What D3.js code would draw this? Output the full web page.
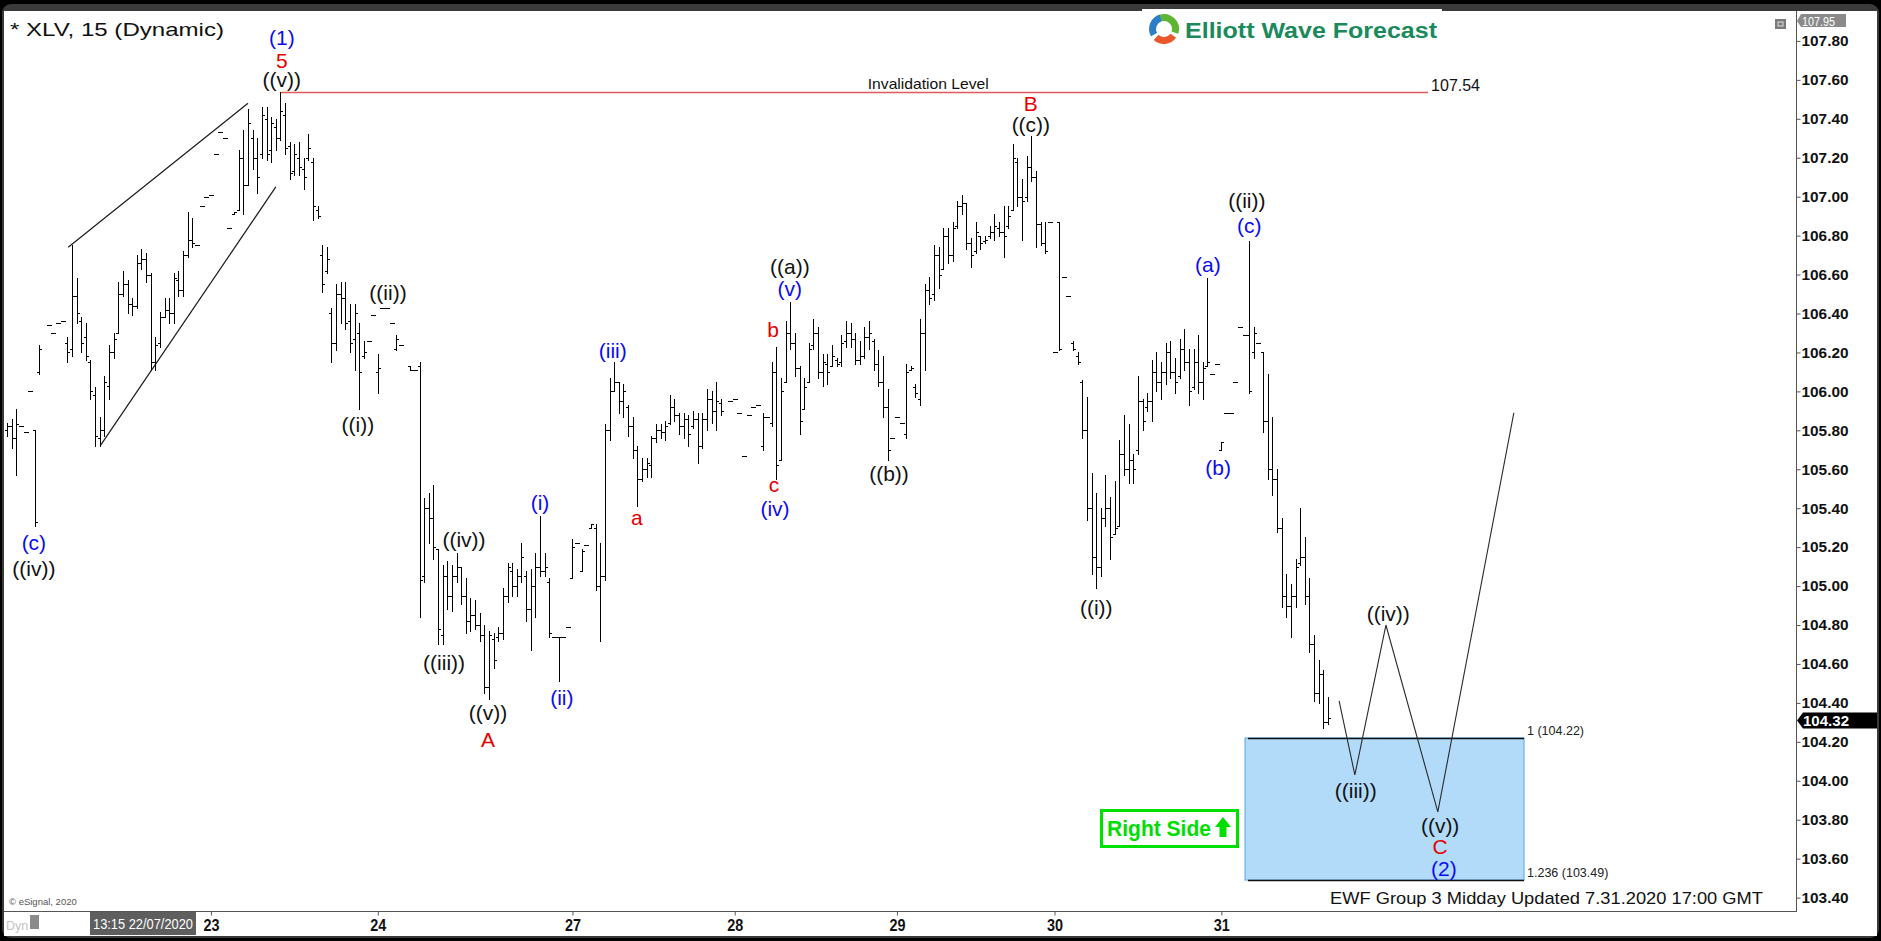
<!DOCTYPE html>
<html><head><meta charset="utf-8">
<script src="https://cdn.jsdelivr.net/npm/d3@7"></script>
<style>html,body{margin:0;padding:0;background:#000;overflow:hidden}text{font-family:"Liberation Sans",Arial,sans-serif}</style>
</head><body><svg id="c" width="1881" height="941"></svg>
<script>
// ---------------- DATA ----------------
const barSlot = [0,1,2,3,4,5,6,7,
 9,10,11,12,13,14,15,16,17,18, 19,20,21,22,23,24,25,26,27,28, 29,30,31,32,33,34,35,36,37,38,
 39,40,41,42,43,44,45,46,47,48, 49,50,51,52,53,54,55,56,57,58, 59,60,61,62,63,64,65,66,67,68,
 69,70,71,72,73,74,75,76,77,78, 79,80,81,82,83,84,85,87,88,89, 90,91,92,93,94,95,96,97,98,99,
 100,101,102,103,104,105,106,107,108,109, 110,111,112,113,114,115,116,117,118,119,
 120,121,122,123,124,125,126,127,128,129, 130,131,132,133,134,135,136,137,138,139,
 140,141,142,143,144,145,146,147,148,149, 150,151,152,153,154,156,157,158,159,160,
 161,162,163,164,165,166,167,168,169,170, 171,172,173,174,175,176,177,178,179,180,
 181,182,183,184,185,186,187,188,189,190, 191,192,193,194,195,196,197,198,199,200,
 201,202,203,204,205,206,207,208,209,210, 211,212,213,214,215,216,217,218,219,220,
 221,222,223,224,225,226,227,228,229,230, 231,232,233,234,235,236,237,238,239,240,
 241,242,243,244,245,246,247,248,249,250, 251,252,253,254,255,256,257,258,259,260,
 261,262,263,264,265,266,267,268,269,270, 271,272,273,274,275,276,277,278,279,280,
 281,282,283,284,285];
const barOpen = [105.80,105.82,105.76,105.82,105.79,106.00,105.80,106.10,
 106.34,106.30,106.35,106.36,106.25,106.22,106.49,106.36,106.28,106.15,
 105.98,105.76,105.80,106.03,106.20,106.30,106.50,106.55,106.45,106.44,
 106.66,106.68,106.60,106.15,106.25,106.38,106.42,106.40,106.57,106.52,
 106.70,106.78,106.75,106.95,107.00,107.01,107.22,107.33,107.30,106.84,
 106.91,106.93,107.20,107.06,107.30,107.20,107.22,107.40,107.24,107.36,
 107.30,107.42,107.26,107.13,107.20,107.14,107.20,107.18,106.93,106.70,
 106.62,106.40,106.25,106.50,106.48,106.36,106.27,106.30,106.18,106.26,
 106.39,106.10,106.43,106.43,106.35,106.22,106.24,106.13,106.11,106.13,
 105.05,105.40,105.35,105.19,104.75,105.05,104.95,105.05,105.10,104.95,
 104.82,104.85,104.80,104.75,104.48,104.73,104.74,104.76,104.95,105.08,
 105.00,105.05,105.05,104.88,105.00,105.10,105.08,105.02,104.74,104.74,
 104.74,104.79,105.04,105.22,105.08,105.21,105.30,105.30,105.00,105.05,
 105.80,106.00,106.05,105.95,105.92,105.82,105.70,105.55,105.60,105.62,
 105.76,105.80,105.79,105.84,105.92,105.88,105.82,105.86,105.82,105.86,
 105.72,105.86,105.96,105.90,105.94,105.95,105.96,105.89,105.67,105.88,
 105.92,105.93,105.72,105.87,105.84,106.10,105.65,106.05,106.30,106.25,
 106.12,105.91,106.05,106.24,106.30,106.10,106.14,106.13,106.16,106.15,
 106.26,106.30,106.27,106.16,106.18,106.28,106.26,106.14,106.05,105.92,
 105.76,105.87,105.84,105.78,106.11,106.02,105.96,106.30,106.52,106.50,
 106.70,106.63,106.80,106.70,106.85,106.95,106.97,106.76,106.72,106.80,
 106.77,106.80,106.82,106.84,106.82,106.85,106.93,107.18,107.00,107.00,
 107.15,107.10,106.86,106.76,106.87,106.20,106.87,106.59,106.49,106.25,
 106.18,106.05,105.80,105.40,105.15,105.10,105.35,105.40,105.27,105.31,
 105.68,105.60,105.65,105.70,105.95,105.92,105.95,106.10,106.05,106.10,
 106.20,106.10,106.08,106.22,106.15,106.02,106.15,106.05,106.13,106.09,
 106.14,105.70,105.89,105.89,106.05,106.33,106.29,106.29,106.20,106.25,
 106.20,105.85,105.60,105.55,105.30,104.95,104.90,104.95,105.12,105.15,
 104.95,104.70,104.45,104.55,104.30];
const barHigh = [105.84,105.86,105.91,105.82,105.79,106.00,105.80,106.24,
 106.34,106.30,106.35,106.36,106.28,106.75,106.58,106.38,106.35,106.16,
 106.02,105.87,106.08,106.24,106.30,106.56,106.62,106.57,106.48,106.70,
 106.73,106.71,106.61,106.28,106.41,106.48,106.48,106.61,106.62,106.72,
 106.92,106.89,106.75,106.95,107.00,107.01,107.22,107.33,107.30,106.84,
 106.92,107.24,107.34,107.45,107.34,107.30,107.46,107.46,107.41,107.40,
 107.54,107.48,107.28,107.27,107.28,107.20,107.32,107.20,106.95,106.75,
 106.74,106.43,106.55,106.56,106.56,106.45,106.45,106.35,106.26,106.26,
 106.39,106.19,106.43,106.43,106.35,106.29,106.24,106.13,106.11,106.15,
 105.45,105.48,105.52,105.19,105.11,105.13,105.11,105.17,105.10,105.04,
 104.94,104.93,104.86,104.80,104.77,104.76,104.79,104.99,105.12,105.12,
 105.09,105.22,105.08,105.09,105.17,105.36,105.17,105.04,104.74,104.74,
 104.74,104.79,105.24,105.22,105.19,105.21,105.32,105.32,105.22,105.83,
 106.07,106.15,106.05,106.04,105.93,105.87,105.72,105.66,105.66,105.77,
 105.83,105.83,105.85,105.98,105.96,105.89,105.89,105.88,105.90,105.89,
 105.89,106.01,106.00,106.05,105.96,105.95,105.96,105.89,105.67,105.88,
 105.92,105.93,105.89,105.87,106.15,106.23,106.07,106.36,106.46,106.30,
 106.13,106.07,106.25,106.37,106.33,106.19,106.19,106.24,106.17,106.29,
 106.36,106.35,106.30,106.26,106.33,106.36,106.27,106.21,106.18,106.01,
 105.76,105.87,105.84,106.14,106.13,106.04,106.37,106.55,106.59,106.75,
 106.74,106.84,106.84,106.87,106.98,107.01,106.97,106.79,106.87,106.80,
 106.80,106.85,106.91,106.87,106.95,106.95,107.27,107.20,107.09,107.21,
 107.31,107.13,106.87,106.87,106.87,106.20,106.87,106.59,106.49,106.26,
 106.20,106.06,105.97,105.58,105.48,105.40,105.57,105.46,105.54,105.75,
 105.88,105.83,105.68,106.08,105.96,105.99,106.16,106.20,106.15,106.25,
 106.26,106.17,106.27,106.32,106.22,106.22,106.29,106.15,106.58,106.09,
 106.14,105.74,105.89,105.89,106.05,106.33,106.29,106.77,106.33,106.25,
 106.20,106.09,105.87,105.60,105.35,105.06,105.01,105.14,105.40,105.25,
 105.04,104.75,104.62,104.57,104.43];
const barLow = [105.77,105.71,105.57,105.82,105.79,106.00,105.31,106.09,
 106.34,106.30,106.35,106.36,106.15,106.18,106.35,106.20,106.16,105.96,
 105.72,105.72,105.77,105.96,106.17,106.30,106.49,106.40,106.39,106.43,
 106.63,106.56,106.11,106.11,106.23,106.38,106.35,106.35,106.49,106.49,
 106.69,106.74,106.75,106.95,107.00,107.01,107.22,107.33,107.30,106.84,
 106.91,106.93,106.91,107.06,107.14,107.02,107.20,107.19,107.18,107.24,
 107.29,107.22,107.09,107.11,107.11,107.04,107.19,106.88,106.89,106.51,
 106.61,106.15,106.21,106.35,106.32,106.20,106.11,105.91,106.17,106.26,
 106.39,105.99,106.43,106.43,106.35,106.21,106.24,106.11,106.11,104.84,
 105.02,105.22,105.14,104.70,104.70,104.88,104.87,105.02,104.91,104.76,
 104.77,104.78,104.72,104.45,104.42,104.58,104.72,104.73,104.92,104.95,
 104.95,105.02,104.82,104.67,104.84,105.05,105.05,104.74,104.74,104.51,
 104.74,104.79,105.04,105.22,105.08,105.21,105.30,104.98,104.72,105.03,
 105.75,106.00,105.89,105.87,105.77,105.66,105.41,105.54,105.56,105.56,
 105.74,105.76,105.75,105.83,105.85,105.78,105.76,105.72,105.81,105.63,
 105.71,105.80,105.84,105.80,105.88,105.95,105.96,105.89,105.67,105.88,
 105.92,105.93,105.70,105.87,105.82,105.55,105.65,106.05,106.22,106.08,
 105.78,105.91,106.05,106.22,106.07,106.03,106.04,106.13,106.13,106.13,
 106.23,106.23,106.14,106.14,106.17,106.22,106.11,106.03,105.87,105.65,
 105.76,105.87,105.84,105.76,106.11,105.97,105.93,106.11,106.45,106.47,
 106.53,106.63,106.66,106.67,106.84,106.91,106.73,106.64,106.71,106.73,
 106.76,106.79,106.78,106.80,106.69,106.84,106.93,106.95,106.78,106.98,
 107.08,106.74,106.75,106.71,106.87,106.20,106.21,106.59,106.49,106.21,
 106.14,105.76,105.34,105.06,104.99,105.05,105.31,105.14,105.27,105.31,
 105.57,105.53,105.53,105.68,105.80,105.90,105.85,106.00,105.96,106.04,
 106.07,105.99,106.07,106.11,105.93,106.01,105.99,105.96,106.13,106.09,
 106.14,105.70,105.89,105.89,106.05,106.33,106.29,105.99,106.17,106.25,
 105.79,105.55,105.47,105.28,104.89,104.84,104.74,104.89,105.11,104.91,
 104.66,104.41,104.40,104.27,104.29];
const barClose = [105.82,105.76,105.83,105.82,105.79,106.00,105.33,106.22,
 106.34,106.30,106.35,106.36,106.20,106.49,106.40,106.25,106.18,106.00,
 105.77,105.80,106.05,106.20,106.27,106.50,106.55,106.45,106.44,106.66,
 106.68,106.60,106.15,106.24,106.38,106.42,106.40,106.58,106.52,106.70,
 106.78,106.76,106.75,106.95,107.00,107.01,107.22,107.33,107.30,106.84,
 106.92,107.20,107.06,107.38,107.20,107.10,107.42,107.22,107.38,107.30,
 107.44,107.25,107.12,107.22,107.15,107.10,107.25,106.95,106.90,106.55,
 106.68,106.25,106.50,106.48,106.35,106.25,106.40,106.10,106.20,106.26,
 106.39,106.12,106.43,106.43,106.35,106.27,106.24,106.11,106.11,105.03,
 105.40,105.35,105.20,104.78,105.05,104.95,105.05,105.10,104.95,104.82,
 104.85,104.80,104.75,104.48,104.75,104.62,104.76,104.95,105.10,105.00,
 105.05,105.15,104.88,105.00,105.10,105.08,105.10,104.76,104.74,104.74,
 104.74,104.79,105.20,105.22,105.18,105.21,105.32,105.00,105.05,105.80,
 106.00,106.05,105.95,106.00,105.82,105.70,105.55,105.60,105.63,105.76,
 105.80,105.79,105.82,105.92,105.88,105.82,105.86,105.78,105.86,105.72,
 105.86,105.96,105.90,105.95,105.90,105.95,105.96,105.89,105.67,105.88,
 105.92,105.93,105.87,105.87,106.10,105.62,106.00,106.30,106.25,106.12,
 105.85,106.02,106.22,106.30,106.10,106.15,106.10,106.18,106.14,106.25,
 106.30,106.27,106.16,106.18,106.28,106.30,106.14,106.05,105.92,105.70,
 105.76,105.87,105.84,106.10,106.12,105.99,106.30,106.52,106.48,106.70,
 106.60,106.80,106.70,106.84,106.95,106.97,106.76,106.70,106.82,106.76,
 106.78,106.82,106.85,106.82,106.80,106.90,107.20,107.00,106.98,107.15,
 107.10,106.86,106.76,106.72,106.87,106.20,106.22,106.59,106.49,106.22,
 106.15,105.80,105.40,105.15,105.10,105.35,105.40,105.25,105.30,105.68,
 105.60,105.65,105.60,105.95,105.85,105.95,106.10,106.05,106.10,106.20,
 106.10,106.05,106.22,106.15,106.00,106.15,106.05,106.12,106.15,106.09,
 106.14,105.74,105.89,105.89,106.05,106.33,106.29,106.00,106.30,106.25,
 105.85,105.60,105.55,105.30,104.95,104.90,104.95,105.10,105.15,104.95,
 104.70,104.45,104.55,104.30,104.32];

const priceTicks = [103.40,103.60,103.80,104.00,104.20,104.40,104.60,104.80,105.00,105.20,105.40,105.60,105.80,106.00,106.20,106.40,106.60,106.80,107.00,107.20,107.40,107.60,107.80];
const dayLabels = ['23','24','27','28','29','30','31'];
const daySlots = [44,80,122,157,192,226,262];

// wave labels: text, slot, price, colour key
const waveText  = ['(1)','5','((v))','(c)','((iv))','((ii))','((i))','((iv))','((iii))','((v))','A','(i)','(ii)','(iii)','a','((a))','(v)','b','c','(iv)','((b))','B','((c))','((i))','(a)','((ii))','(c)','(b)','((iv))','((iii))','((v))','C','(2)'];
const waveSlot  = [59.3,59.3,59.3,5.8,5.8,82.2,75.7,98.6,94.3,103.8,103.8,115,119.7,130.7,135.9,168.9,168.9,165.3,165.5,165.7,190.3,220.9,220.9,235,259.1,267.5,268,261.3,298,291,309.2,309.2,310];
const wavePrice = [107.815,107.70,107.60,105.225,105.09,106.51,105.83,105.24,104.61,104.35,104.21,105.43,104.43,106.21,105.35,106.64,106.53,106.32,105.52,105.40,105.58,107.48,107.37,104.89,106.65,106.98,106.85,105.61,104.86,103.95,103.77,103.66,103.55];
const waveColor = ['b','r','k','b','k','k','k','k','k','k','r','b','b','b','r','k','b','r','r','b','k','r','k','k','b','k','b','b','k','k','k','r','b'];

const wedgeUpper = [[13.2,106.74],[52.0,107.48]];
const wedgeLower = [[20.1,105.72],[58.0,107.05]];
const projectionPath = [[287.4,104.41],[290.8,104.03],[297.5,104.80],[308.7,103.84],[325.1,105.89]];
const invalidationPrice = 107.54;
const invalidationSlots = [59, 306.6];
const fibSlots = [267.1, 327.3];
const fibPrices = [104.22, 103.49];
const fibNames = ['1 (104.22)','1.236 (103.49)'];
const lastPrice = 104.32;
const topPrice = 107.95;

// ---------------- DRAW ----------------
const svg = d3.select('#c');
const W = 1881, H = 941;
const plotL = 4, plotR = 1796, plotT = 11, plotB = 911;

const x = d3.scaleLinear().domain([0, 385]).range([7, 7 + 385 * 4.635]);
const y = d3.scaleLinear().domain([103.4, 107.8]).range([897.6, 897.6 - 4.4 * 194.7]);

const colors = {b:'#0b0bf0', r:'#e60000', k:'#111111'};

// frame
svg.append('rect').attr('width', W).attr('height', H).attr('fill', '#000');
svg.append('rect').attr('x', 2).attr('y', 4).attr('width', 1877).attr('height', 934).attr('rx', 9).attr('fill', '#3a3a3a');
svg.append('rect').attr('x', 4).attr('y', 11).attr('width', 1873).attr('height', 925).attr('fill', '#fff');

const plot = svg.append('g');
plot.append('clipPath').attr('id', 'pc').append('rect')
  .attr('x', plotL).attr('y', plotT).attr('width', plotR - plotL).attr('height', plotB - plotT);

// fib zone
const fz = plot.append('g');
fz.append('rect')
  .attr('x', x(fibSlots[0])).attr('y', y(fibPrices[0]))
  .attr('width', x(fibSlots[1]) - x(fibSlots[0])).attr('height', y(fibPrices[1]) - y(fibPrices[0]))
  .attr('fill', '#b2dbfa').attr('stroke', '#5aa6e6').attr('stroke-width', 1);
fibPrices.forEach((p, i) => {
  fz.append('line').attr('x1', x(fibSlots[0]) + 3).attr('x2', x(fibSlots[1]))
    .attr('y1', Math.round(y(p)) + 0.5).attr('y2', Math.round(y(p)) + 0.5)
    .attr('stroke', '#111').attr('stroke-width', 1.6);
  fz.append('text').attr('x', x(fibSlots[1]) + 3).attr('y', y(p) - 3)
    .attr('font-size', 12.5).attr('fill', '#222').text(fibNames[i]);
});

// invalidation line
plot.append('line')
  .attr('x1', x(invalidationSlots[0])).attr('x2', x(invalidationSlots[1]))
  .attr('y1', Math.round(y(invalidationPrice)) + 0.5).attr('y2', Math.round(y(invalidationPrice)) + 0.5)
  .attr('stroke', '#e25a5a').attr('stroke-width', 1.3);
plot.append('text').attr('x', (x(invalidationSlots[0]) + x(invalidationSlots[1])) / 2 + 74).attr('y', y(invalidationPrice) - 3)
  .attr('text-anchor', 'middle').attr('font-size', 14.5).attr('fill', '#111')
  .attr('textLength', 121).attr('lengthAdjust', 'spacingAndGlyphs').text('Invalidation Level');
plot.append('text').attr('x', x(invalidationSlots[1]) + 3).attr('y', y(invalidationPrice) - 1)
  .attr('font-size', 16).attr('fill', '#111').text(invalidationPrice.toFixed(2));

// wedge lines
const line = d3.line().x(d => x(d[0])).y(d => y(d[1]));
[wedgeUpper, wedgeLower].forEach(w => plot.append('path').attr('d', line(w))
  .attr('fill', 'none').attr('stroke', '#1a1a1a').attr('stroke-width', 1.2));

// bars
const bars = plot.append('g').attr('clip-path', 'url(#pc)').attr('shape-rendering', 'crispEdges');
barSlot.forEach((s, i) => {
  const cx = Math.round(x(s)) + 0.5;
  const yh = Math.round(y(barHigh[i])), yl = Math.round(y(barLow[i]));
  const g = bars.append('g').attr('stroke', '#000').attr('stroke-width', 1);
  g.append('line').attr('x1', cx).attr('x2', cx).attr('y1', yh).attr('y2', Math.max(yl, yh) + 1);
  const yo = Math.round(y(barOpen[i])) + 0.5, yc = Math.round(y(barClose[i])) + 0.5;
  g.append('line').attr('x1', cx - 2.5).attr('x2', cx).attr('y1', yo).attr('y2', yo);
  g.append('line').attr('x1', cx).attr('x2', cx + 2.5).attr('y1', yc).attr('y2', yc);
});

// projection path
plot.append('path').attr('d', line(projectionPath)).attr('fill', 'none')
  .attr('stroke', '#2a2a2a').attr('stroke-width', 1.1);

// wave labels
waveText.forEach((t, i) => {
  plot.append('text').attr('x', x(waveSlot[i])).attr('y', y(wavePrice[i]))
    .attr('text-anchor', 'middle').attr('dominant-baseline', 'central')
    .attr('font-size', 21).attr('fill', colors[waveColor[i]]).text(t);
});

// Right Side box
const rs = svg.append('g');
rs.append('rect').attr('x', 1101.5).attr('y', 810.5).attr('width', 136).attr('height', 36)
  .attr('fill', '#fff').attr('stroke', '#00e000').attr('stroke-width', 3);
rs.append('text').attr('x', 1107).attr('y', 836).attr('font-size', 22).attr('font-weight', 'bold')
  .attr('fill', '#00dd00').attr('textLength', 104).attr('lengthAdjust', 'spacingAndGlyphs').text('Right Side');
rs.append('path').attr('d', 'M1223,817 L1231,827 L1226.5,827 L1226.5,837 L1219.5,837 L1219.5,827 L1215,827 Z')
  .attr('fill', '#00dd00');

// plot frame lines
svg.append('line').attr('x1', plotR + 0.5).attr('x2', plotR + 0.5).attr('y1', plotT).attr('y2', plotB + 1)
  .attr('stroke', '#555').attr('stroke-width', 1);
svg.append('line').attr('x1', plotL).attr('x2', plotR + 1).attr('y1', plotB + 0.5).attr('y2', plotB + 0.5)
  .attr('stroke', '#555').attr('stroke-width', 1);

// right axis
const yAxis = d3.axisRight(y).tickValues(priceTicks).tickFormat(d3.format('.2f')).tickSize(4).tickPadding(1);
const ya = svg.append('g').attr('transform', `translate(${plotR + 0.5},0)`).call(yAxis);
ya.select('.domain').remove();
ya.selectAll('line').attr('stroke', '#555');
ya.selectAll('text').attr('font-size', 15).attr('font-weight', 'bold').attr('fill', '#111')
  .attr('font-family', '"Liberation Sans",Arial,sans-serif')
  .attr('textLength', 47).attr('lengthAdjust', 'spacingAndGlyphs');

// bottom axis
const xAxis = d3.axisBottom(x).tickValues(daySlots).tickFormat((d, i) => dayLabels[i]).tickSize(4).tickPadding(3);
const xa = svg.append('g').attr('transform', `translate(0,${plotB + 0.5})`).call(xAxis);
xa.select('.domain').remove();
xa.selectAll('line').attr('stroke', '#555');
xa.selectAll('text').attr('font-size', 17).attr('font-weight', 'bold').attr('fill', '#111')
  .attr('font-family', '"Liberation Sans",Arial,sans-serif')
  .attr('textLength', 16).attr('lengthAdjust', 'spacingAndGlyphs');

// top price tag (107.95)
const tp = Math.round(y(topPrice)) + 9;
svg.append('path').attr('d', `M${plotR + 1},${tp} L${plotR + 5},${tp - 7} L1846,${tp - 7} L1846,${tp + 6} L${plotR + 5},${tp + 6} Z`)
  .attr('fill', '#8a8a8a');
svg.append('text').attr('x', plotR + 6).attr('y', tp + 4.5).attr('font-size', 12.5).attr('fill', '#fff')
  .attr('textLength', 33).attr('lengthAdjust', 'spacingAndGlyphs').text(topPrice.toFixed(2));

// last price tag
const lp = y(lastPrice) + 2;
svg.append('path').attr('d', `M${plotR + 1},${lp} L${plotR + 7},${lp - 8} L1877,${lp - 8} L1877,${lp + 8} L${plotR + 7},${lp + 8} Z`)
  .attr('fill', '#000');
svg.append('text').attr('x', plotR + 7).attr('y', lp + 5.5).attr('font-size', 15).attr('font-weight', 'bold')
  .attr('fill', '#fff').attr('textLength', 46).attr('lengthAdjust', 'spacingAndGlyphs').text(lastPrice.toFixed(2));

// title
svg.append('text').attr('x', 10).attr('y', 36).attr('font-size', 19).attr('fill', '#111')
  .attr('textLength', 214).attr('lengthAdjust', 'spacingAndGlyphs').text('* XLV, 15 (Dynamic)');

// logo
const lg = svg.append('g');
lg.append('rect').attr('x', 1142).attr('y', 9).attr('width', 300).attr('height', 40).attr('fill', '#fff');
const arc = d3.arc().innerRadius(8).outerRadius(15);
[[-0.3, 1.9, '#5db531'], [2.2, 3.9, '#e9572a'], [4.2, 6.0, '#2c7ec8']].forEach(a => {
  lg.append('path').attr('transform', 'translate(1164,29)')
    .attr('d', arc({startAngle: a[0], endAngle: a[1]})).attr('fill', a[2]);
});
lg.append('text').attr('x', 1185).attr('y', 38).attr('font-size', 22).attr('font-weight', 'bold')
  .attr('fill', '#1a8a5c').attr('textLength', 252).attr('lengthAdjust', 'spacingAndGlyphs').text('Elliott Wave Forecast');

// small icon top right
svg.append('rect').attr('x', 1775).attr('y', 19).attr('width', 11).attr('height', 10).attr('fill', '#7a7a7a');
svg.append('rect').attr('x', 1778).attr('y', 22).attr('width', 5).attr('height', 4).attr('fill', 'none').attr('stroke', '#ddd').attr('stroke-width', 1);

// footer texts
svg.append('text').attr('x', 9).attr('y', 905).attr('font-size', 9.5).attr('fill', '#555').text('© eSignal, 2020');
svg.append('text').attr('x', 1330).attr('y', 904).attr('font-size', 17).attr('fill', '#111')
  .attr('textLength', 433).attr('lengthAdjust', 'spacingAndGlyphs').text('EWF Group 3 Midday Updated 7.31.2020 17:00 GMT');
svg.append('text').attr('x', 6).attr('y', 930).attr('font-size', 12.5).attr('fill', '#c4c4c4').text('Dyn');
svg.append('rect').attr('x', 30).attr('y', 915).attr('width', 9).attr('height', 14).attr('fill', '#8a8a8a');
svg.append('rect').attr('x', 90).attr('y', 912).attr('width', 106).attr('height', 23).attr('fill', '#5e5e5e');
svg.append('text').attr('x', 93).attr('y', 929).attr('font-size', 14).attr('fill', '#fff')
  .attr('textLength', 100).attr('lengthAdjust', 'spacingAndGlyphs').text('13:15 22/07/2020');
</script>
</body></html>
